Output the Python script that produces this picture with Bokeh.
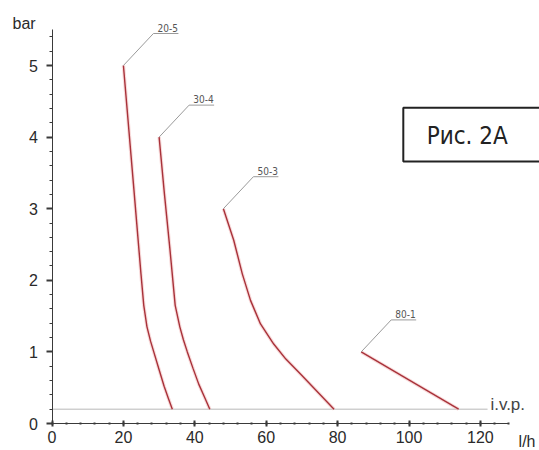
from bokeh.plotting import figure
from bokeh.models import Label, SingleIntervalTicker, Range1d
from bokeh.embed import file_html
from bokeh.resources import INLINE

# ---- data ----
curve_names = ["20-5", "30-4", "50-3", "80-1"]
flow_20_5 = [20.0, 22.8, 24.9, 25.7, 26.6, 27.6, 28.5, 30.0, 31.4, 32.6, 33.7]
bar_20_5 = [5.0, 3.35, 2.1, 1.65, 1.35, 1.15, 1.0, 0.75, 0.52, 0.35, 0.2]
flow_30_4 = [30.0, 31.5, 33.0, 34.5, 35.8, 36.8, 37.9, 39.5, 41.1, 42.7, 44.2]
bar_30_4 = [4.0, 3.2, 2.45, 1.65, 1.35, 1.17, 1.0, 0.77, 0.55, 0.37, 0.2]
flow_50_3 = [48.0, 50.9, 53.3, 55.6, 58.4, 62.1, 65.5, 69.6, 74.2, 79.0]
bar_50_3 = [3.0, 2.56, 2.09, 1.72, 1.39, 1.11, 0.9, 0.69, 0.45, 0.2]
flow_80_1 = [86.6, 113.9]
bar_80_1 = [1.0, 0.2]
ivp_level = 0.2
ivp_extent = [0, 122]
x_ticks_major = 20
y_ticks_major = 1
flows = [flow_20_5, flow_30_4, flow_50_3, flow_80_1]
bars = [bar_20_5, bar_30_4, bar_50_3, bar_80_1]

# ---- figure: the frame covers the whole canvas, axes sit at x=0 / y=0 ----
W, H = 539, 450
X_START, X_END = -14.43, 136.55
Y_START, Y_END = -0.377, 5.908
p = figure(width=W, height=H, output_backend="svg", toolbar_location=None,
           x_range=Range1d(X_START, X_END), y_range=Range1d(Y_START, Y_END),
           min_border=0, min_border_left=0, min_border_right=0,
           min_border_top=0, min_border_bottom=0)
p.title.visible = False
p.outline_line_color = None
p.grid.visible = False
p.background_fill_color = "white"
p.border_fill_color = "white"

axis_color = "#3a3a3a"
label_color = "#2a2a2a"
FONT = "Liberation Sans"
NARROW = "DejaVu Sans Condensed"

xa = p.xaxis[0]
xa.fixed_location = 0
xa.ticker = SingleIntervalTicker(interval=x_ticks_major, num_minor_ticks=5)
xa.bounds = (0, 128)
xa.axis_line_color = axis_color
xa.axis_line_width = 1
xa.major_tick_line_color = axis_color
xa.major_tick_line_width = 2
xa.major_tick_in = 3
xa.major_tick_out = 3
xa.minor_tick_line_color = axis_color
xa.minor_tick_line_width = 2
xa.minor_tick_in = 1
xa.minor_tick_out = 1
xa.major_label_standoff = 4
xa.major_label_text_font = FONT
xa.major_label_text_font_size = "16px"
xa.major_label_text_color = label_color

ya = p.yaxis[0]
ya.fixed_location = 0
ya.ticker = SingleIntervalTicker(interval=y_ticks_major, num_minor_ticks=5)
ya.bounds = (0, 5.5)
ya.axis_line_color = axis_color
ya.major_tick_line_color = axis_color
ya.major_tick_line_width = 2
ya.major_tick_in = 0
ya.major_tick_out = 6
ya.minor_tick_line_color = axis_color
ya.minor_tick_line_width = 1
ya.minor_tick_in = 0
ya.minor_tick_out = 3
ya.major_label_standoff = 8
ya.major_label_text_font = FONT
ya.major_label_text_font_size = "16px"
ya.major_label_text_color = label_color

# i.v.p. line
p.line(ivp_extent, [ivp_level, ivp_level], line_color="#b8b8b8", line_width=1)
p.add_layout(Label(x=ivp_extent[1] + 0.8, y=ivp_level + 0.06, text="i.v.p.",
                   text_font=FONT, text_font_size="17px", text_color="#444444",
                   text_align="left", text_baseline="middle"))

# curves
curve_color = "#a8323a"
for fx, by in zip(flows, bars):
    p.line(fx, by, line_color="#f2b8b8", line_width=3.5, line_alpha=0.5)
    p.line(fx, by, line_color=curve_color, line_width=1.4)

# leader lines and curve labels
PX_X = W / (X_END - X_START)   # pixels per l/h
PX_Y = H / (Y_END - Y_START)   # pixels per bar
for name, fx, by in zip(curve_names, flows, bars):
    x0, y0 = fx[0], by[0]
    x1, y1 = x0 + 30 / PX_X, y0 + 32 / PX_Y
    x2 = x1 + 25 / PX_X
    p.line([x0, x1, x2], [y0, y1, y1], line_color="#9a9a9a", line_width=1)
    p.add_layout(Label(x=(x1 + x2) / 2 + 0.5, y=y1 + 2 / PX_Y, text=name,
                       text_font=NARROW, text_font_size="10px",
                       text_color="#555555", text_align="center",
                       text_baseline="bottom"))

# axis unit labels
p.add_layout(Label(x=-11.06, y=5.58, text="bar", text_font=FONT,
                   text_font_size="16px", text_color=label_color,
                   text_align="left", text_baseline="middle"))
p.add_layout(Label(x=130.7, y=-0.25, text="l/h", text_font=FONT,
                   text_font_size="16px", text_color=label_color,
                   text_align="left", text_baseline="middle"))

# figure caption box (open at the right edge, as in the reference)
p.quad(left=[98.4], right=[X_END + 10], top=[4.41], bottom=[3.66],
       fill_color="white", line_color="#222222", line_width=2)
p.add_layout(Label(x=116.3, y=4.02, text="Рис. 2A", text_font=NARROW,
                   text_font_size="24px", text_color="#222222",
                   text_align="center", text_baseline="middle"))

open("out.html", "w").write(file_html(p, INLINE))
